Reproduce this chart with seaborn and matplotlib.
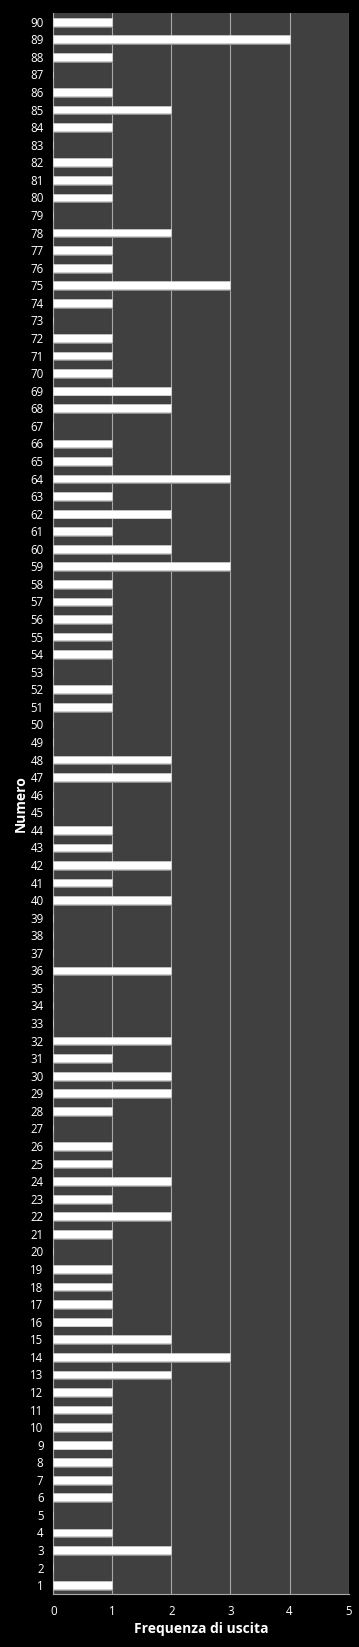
import matplotlib
matplotlib.use("Agg")
import matplotlib.pyplot as plt
import matplotlib.patheffects as pe
import seaborn as sns
import pandas as pd

numeri = list(range(90, 0, -1))
frequenze = [1, 4, 1, 0, 1, 2, 1, 0, 1, 1, 1, 0, 2, 1, 1, 3, 1, 0, 1, 1,
             1, 2, 2, 0, 1, 1, 3, 1, 2, 1, 2, 3, 1, 1, 1, 1, 1, 0, 1, 1,
             0, 0, 2, 2, 0, 0, 1, 1, 2, 1, 2, 0, 0, 0, 2, 0, 0, 0, 2, 1,
             2, 2, 1, 0, 1, 1, 2, 1, 2, 1, 0, 1, 1, 1, 1, 2, 3, 2, 1, 1,
             1, 1, 1, 1, 1, 0, 1, 2, 0, 1]
x_ticks = [0, 1, 2, 3, 4, 5]

df = pd.DataFrame({"Numero": [str(n) for n in numeri], "Frequenza": frequenze})
order = [str(n) for n in numeri]

sns.set_style("dark")
plt.rcParams["font.family"] = ["Open Sans", "DejaVu Sans"]

fig = plt.figure(figsize=(3.59, 16.47), dpi=100, facecolor="black")
ax = fig.add_axes([0.1485, 0.0322, 0.8225, 0.9599])
ax.set_facecolor("#404040")

sns.barplot(data=df, x="Frequenza", y="Numero", order=order, orient="h",
            color="white", width=0.44, saturation=1, ax=ax, zorder=3)
for p in ax.patches:
    p.set_edgecolor("#d8d8d8")
    p.set_linewidth(0.4)
    if p.get_width() > 0:
        p.set_path_effects([
            pe.SimplePatchShadow(offset=(0.6, -1.4), shadow_rgbFace="#8c8c8c", alpha=1.0),
            pe.Normal(),
        ])

ax.set_xlim(0, 5)
ax.set_ylim(89.5, -0.5)
ax.set_xticks(x_ticks)
ax.xaxis.grid(True, color="#a8a8a8", linewidth=0.8, zorder=1)
ax.yaxis.grid(False)
ax.set_axisbelow(True)

for s in ["top", "right"]:
    ax.spines[s].set_visible(False)
for s in ["left", "bottom"]:
    ax.spines[s].set_visible(True)
    ax.spines[s].set_color("#a8a8a8")
    ax.spines[s].set_linewidth(0.8)

ax.tick_params(axis="y", length=0, pad=7, labelsize=8.3, colors="white")
ax.tick_params(axis="x", length=0, pad=8, labelsize=8.3, colors="white")

ax.set_xlabel("Frequenza di uscita", color="white", fontsize=10,
              fontweight="bold", labelpad=3)
ax.set_ylabel("Numero", color="white", fontsize=10, fontweight="bold",
              labelpad=2)

fig.savefig("out.png", dpi=100, facecolor="black")
